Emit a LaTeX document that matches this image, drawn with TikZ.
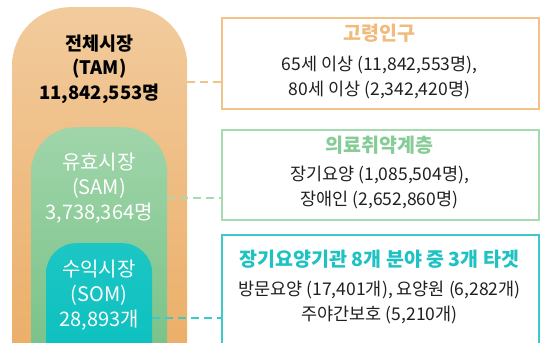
\documentclass[tikz,border=0pt]{standalone}
\usepackage{fontspec}
\setmainfont{Noto Sans CJK KR}
\definecolor{tamTop}{HTML}{F2CB9D}
\definecolor{tamMid}{HTML}{F1C796}
\definecolor{tamBot}{HTML}{EAAA60}
\definecolor{samTop}{HTML}{A0D5AA}
\definecolor{samMid}{HTML}{96D0A1}
\definecolor{samBot}{HTML}{6CBC7E}
\definecolor{somTop}{HTML}{1CC6C4}
\definecolor{somBot}{HTML}{00BCBC}
\definecolor{orangeLine}{HTML}{F2C288}
\definecolor{greenLine}{HTML}{A6DAB0}
\definecolor{tealLine}{HTML}{3CC9C9}
\definecolor{orangeTxt}{HTML}{F0BC7E}
\definecolor{greenTxt}{HTML}{86CC96}
\definecolor{tealTxt}{HTML}{1EC2C2}
\definecolor{bodyTxt}{HTML}{231F20}
\begin{document}
\begin{tikzpicture}[x=1pt,y=-1pt,
  market/.style={rectangle, anchor=north west, inner sep=0pt},
  infobox/.style={rectangle, anchor=north west, inner sep=0pt, line width=1.5pt, fill=white, minimum width=317pt},
  mtxt/.style={font=\fontsize{20}{25}\selectfont, align=center},
  btitle/.style={font=\fontsize{19.5}{22}\selectfont\bfseries, align=center},
  btxt/.style={font=\fontsize{17.5}{25}\selectfont, align=center, text=bodyTxt},
  conn/.style={line width=2pt, dash pattern=on 8pt off 5pt}
]
\useasboundingbox (0,0) rectangle (542,343);
\clip (0,0) rectangle (542,343);
% markets
\node[market, rounded corners=58pt, top color=tamTop, middle color=tamMid, bottom color=tamBot, minimum width=175pt, minimum height=400pt] (tam) at (12,7) {};
\node[market, rounded corners=45pt, top color=samTop, middle color=samMid, bottom color=samBot, minimum width=136pt, minimum height=300pt] (sam) at (31,127) {};
\node[market, rounded corners=30pt, top color=somTop, bottom color=somBot, minimum width=106pt, minimum height=200pt] (som) at (46,243) {};
\node[mtxt, font=\fontsize{18.5}{24.5}\selectfont\bfseries, text=black] (tamtxt) at (99.5,69) {전체시장\\(TAM)\\11,842,553명};
\node[mtxt, text=white] (samtxt) at (99,188) {유효시장\\(SAM)\\3,738,364명};
\node[mtxt, text=white] (somtxt) at (99,295) {수익시장\\(SOM)\\28,893개};
% info boxes
\node[infobox, draw=orangeLine, minimum height=91pt] (b1) at (221,17) {};
\node[btitle, text=orangeTxt] (b1t) at (379.5,33) {고령인구};
\node[btxt] (b1b) at (379.5,77.5) {65세 이상 (11,842,553명),\\80세 이상 (2,342,420명)};
\node[infobox, draw=greenLine, minimum height=90pt] (b2) at (221,129) {};
\node[btitle, text=greenTxt] (b2t) at (379.5,145) {의료취약계층};
\node[btxt] (b2b) at (379.5,187.5) {장기요양 (1,085,504명),\\장애인 (2,652,860명)};
\node[infobox, draw=tealLine, minimum height=140pt] (b3) at (221,234) {};
\node[btitle, text=tealTxt] (b3t) at (379.5,259) {장기요양기관 8개 분야 중 3개 타겟};
\node[btxt] (b3b) at (379.5,302.5) {방문요양 (17,401개), 요양원 (6,282개)\\주야간보호 (5,210개)};
% connectors
\coordinate (c1) at (221,82);
\coordinate (c2) at (221,198);
\coordinate (c3) at (221,318);
\draw[conn, draw=orangeLine] (tam.east |- c1) -- (b1.west |- c1);
\draw[conn, draw=greenLine] (sam.east |- c2) -- (b2.west |- c2);
\draw[conn, draw=tealLine] (som.east |- c3) -- (b3.west |- c3);
\end{tikzpicture}
\end{document}
